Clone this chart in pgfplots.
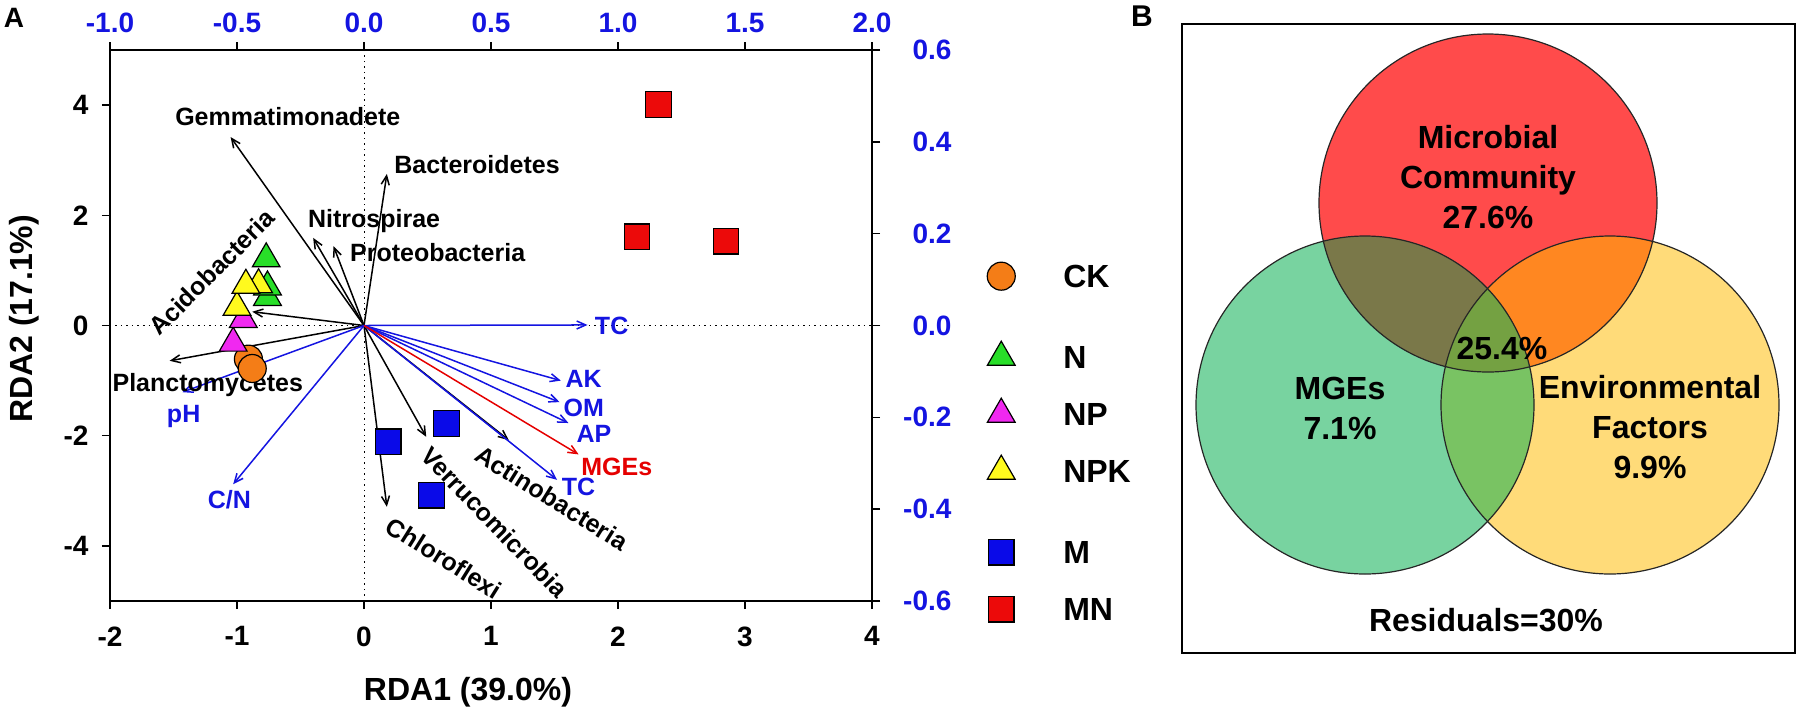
\documentclass[border=0pt]{standalone}
\usepackage{pgfplots}
\pgfplotsset{compat=1.18}
\usepackage{fontspec}
\setmainfont{Liberation Sans}
\usetikzlibrary{arrows.meta}

\newcommand{\fnt}[2]{\fontsize{#1}{#2}\selectfont\bfseries}

\definecolor{myblue}{RGB}{20,20,225}
\definecolor{ckorange}{RGB}{244,125,23}
\definecolor{ngreen}{RGB}{40,222,40}
\definecolor{npmag}{RGB}{240,40,240}
\definecolor{npkyel}{RGB}{255,250,30}
\definecolor{mblue}{RGB}{10,10,232}
\definecolor{mnred}{RGB}{236,10,10}
% venn regions
\definecolor{vR}{HTML}{FF4B4B}
\definecolor{vG}{HTML}{78D3A0}
\definecolor{vY}{HTML}{FFDB79}
\definecolor{vRG}{HTML}{7A7849}
\definecolor{vRY}{HTML}{FF8721}
\definecolor{vGY}{HTML}{79C363}
\definecolor{vRGY}{HTML}{74A142}

\tikzset{
  sp/.style={line width=1.5pt, black, -{Straight Barb[length=9pt,width=8pt]}},
  env/.style={line width=1.5pt, myblue, -{Straight Barb[length=9pt,width=8pt]}},
}

\begin{document}
\begin{tikzpicture}
\path[use as bounding box] (0pt,0pt) rectangle (1800pt,-716pt);

\node[font=\fnt{28}{28}] at (14pt,-18pt) {A};
\node[font=\fnt{30}{30}] at (1142pt,-16pt) {B};

% ---------- panel A, top and right scales ----------
\begin{axis}[
  at={(110pt,-601pt)}, anchor=south west,
  scale only axis, width=762pt, height=551pt,
  xmin=-1, xmax=2, ymin=-0.6, ymax=0.6,
  axis x line=top, axis y line=right,
  axis line style={-, line width=1.5pt},
  tick align=outside, major tick length=8pt,
  tick style={line width=1.5pt, black},
  xtick={-1,-0.5,0,0.5,1,1.5,2},
  xticklabels={-1.0,-0.5,0.0,0.5,1.0,1.5,2.0},
  ytick={-0.6,-0.4,-0.2,0,0.2,0.4,0.6},
  yticklabels={-0.6,-0.4,-0.2,0.0,0.2,0.4,0.6},
  tick label style={font=\fnt{28}{28}, text=myblue},
  xticklabel style={yshift=6pt},
  yticklabel style={anchor=east, xshift=75pt},
]
\end{axis}

% ---------- panel A, RDA biplot ----------
\begin{axis}[
  at={(110pt,-601pt)}, anchor=south west,
  scale only axis, width=762pt, height=551pt,
  xmin=-2, xmax=4, ymin=-5, ymax=5,
  axis x line=bottom, axis y line=left,
  axis line style={-, line width=1.5pt},
  tick align=outside, major tick length=8pt,
  tick style={line width=1.5pt, black},
  xtick={-2,-1,0,1,2,3,4}, xticklabels={-2,-1,0,1,2,3,4},
  ytick={-4,-2,0,2,4}, yticklabels={-4,-2,0,2,4},
  tick label style={font=\fnt{28}{28}},
  xticklabel style={yshift=-14pt},
  yticklabel style={xshift=-10pt},
  xlabel={RDA1 (39.0\%)}, ylabel={RDA2 (17.1\%)},
  label style={font=\fnt{32}{32}},
  xlabel style={at={(axis description cs:0.4698,-0.165)}, anchor=center},
  ylabel style={at={(axis description cs:-0.112,0.512)}, anchor=center},
  clip=false,
  legend cell align=left,
  legend style={at={(axis description cs:1.151,0.6416)}, anchor=north west,
    draw=none, fill=none, inner sep=0pt, row sep=0pt, font=\fnt{32}{32},
    nodes={inner sep=0pt, text height=39.5pt, text depth=17.5pt},
    /tikz/every odd column/.append style={column sep=48pt}},
]
% reference lines
\addplot[forget plot, black, line width=1pt, dash pattern=on 1.5pt off 4pt] coordinates {(-2,0) (4,0)};
\addplot[forget plot, black, line width=1pt, dash pattern=on 1.5pt off 4pt] coordinates {(0,-5) (0,5)};

% samples
\addplot[only marks, mark=*, mark size=14pt, mark options={fill=ckorange, draw=black, line width=1.2pt}]
  coordinates {(-0.91,-0.61) (-0.88,-0.78)};
\addlegendentry{CK}
\addlegendimage{empty legend}
\addlegendentry[text height=12pt, text depth=12pt]{}
\addplot[only marks, mark=triangle*, mark size=16pt, mark options={fill=ngreen, draw=black, line width=1.2pt}]
  coordinates {(-0.76,0.51) (-0.76,0.70) (-0.77,1.21)};
\addlegendentry{N}
\addplot[only marks, mark=triangle*, mark size=16pt, mark options={fill=npmag, draw=black, line width=1.2pt}]
  coordinates {(-1.03,-0.32) (-0.95,0.11)};
\addlegendentry{NP}
\addplot[only marks, mark=triangle*, mark size=16pt, mark options={fill=npkyel, draw=black, line width=1.2pt}]
  coordinates {(-1.00,0.33) (-0.83,0.74) (-0.93,0.73)};
\addlegendentry{NPK}
\addlegendimage{empty legend}
\addlegendentry[text height=12pt, text depth=12pt]{}
\addplot[only marks, mark=square*, mark size=12.8pt, mark options={fill=mblue, draw=black, line width=1.2pt}]
  coordinates {(0.19,-2.11) (0.65,-1.78) (0.53,-3.08)};
\addlegendentry{M}
\addplot[only marks, mark=square*, mark size=12.8pt, mark options={fill=mnred, draw=black, line width=1.2pt}]
  coordinates {(2.32,4.01) (2.15,1.61) (2.85,1.53)};
\addlegendentry{MN}

% phyla
\addplot[forget plot, sp] coordinates {(0,0) (-1.05,3.42)};
\addplot[forget plot, sp] coordinates {(0,0) (0.18,2.75)};
\addplot[forget plot, sp] coordinates {(0,0) (-0.40,1.59)};
\addplot[forget plot, sp] coordinates {(0,0) (-0.24,1.44)};
\addplot[forget plot, sp] coordinates {(0,0) (-0.88,0.25)};
\addplot[forget plot, sp] coordinates {(0,0) (-1.53,-0.64)};
\addplot[forget plot, sp] coordinates {(0,0) (1.14,-2.08)};
\addplot[forget plot, sp] coordinates {(0,0) (0.49,-2.02)};
\addplot[forget plot, sp] coordinates {(0,0) (0.18,-3.29)};
% soil factors
\addplot[forget plot, env] coordinates {(0,0) (1.76,0.01)};
\addplot[forget plot, env] coordinates {(0,0) (1.55,-1.00)};
\addplot[forget plot, env] coordinates {(0,0) (1.54,-1.39)};
\addplot[forget plot, env] coordinates {(0,0) (1.61,-1.77)};
\addplot[forget plot, env] coordinates {(0,0) (1.52,-2.80)};
\addplot[forget plot, env] coordinates {(0,0) (-1.43,-1.21)};
\addplot[forget plot, env] coordinates {(0,0) (-1.03,-2.88)};
\addplot[forget plot, env, red!90!black] coordinates {(0,0) (1.69,-2.34)};

% labels
\begin{scope}[font=\fnt{25}{25}]
\node at (axis cs:-0.60,3.80) {Gemmatimonadete};
\node at (axis cs:0.89,2.92) {Bacteroidetes};
\node at (axis cs:0.08,1.90) {Nitrospirae};
\node at (axis cs:0.58,1.32) {Proteobacteria};
\node[rotate=45] at (axis cs:-1.20,0.97) {Acidobacteria};
\node at (axis cs:-1.23,-1.08) {Planctomycetes};
\node[rotate=-32] at (axis cs:1.48,-3.13) {Actinobacteria};
\node[rotate=-46] at (axis cs:1.03,-3.57) {Verrucomicrobia};
\node[rotate=-32] at (axis cs:0.63,-4.22) {Chloroflexi};
\end{scope}
\begin{scope}[font=\fnt{25}{25}, text=myblue]
\node at (axis cs:1.95,0) {TC};
\node at (axis cs:1.73,-0.97) {AK};
\node at (axis cs:1.73,-1.50) {OM};
\node at (axis cs:1.81,-1.97) {AP};
\node at (axis cs:1.69,-2.93) {TC};
\node at (axis cs:-1.42,-1.66) {pH};
\node at (axis cs:-1.06,-3.17) {C/N};
\node[text=red!90!black] at (axis cs:1.99,-2.56) {MGEs};
\end{scope}
\end{axis}

% ---------- panel B, variation partitioning ----------
\begin{axis}[
  at={(1182pt,-653pt)}, anchor=south west,
  scale only axis, width=613pt, height=629pt,
  xmin=1182, xmax=1795, ymin=-653, ymax=-24,
  axis line style={line width=1.5pt},
  xtick=\empty, ytick=\empty,
  clip=false,
]
\pgfplotsextra{
  \fill[vR] (axis cs:1488,-203) circle[radius=169pt];
  \fill[vG] (axis cs:1365,-405) circle[radius=169pt];
  \fill[vY] (axis cs:1610,-405) circle[radius=169pt];
  \begin{scope}
    \clip (axis cs:1488,-203) circle[radius=169pt];
    \fill[vRG] (axis cs:1365,-405) circle[radius=169pt];
    \fill[vRY] (axis cs:1610,-405) circle[radius=169pt];
  \end{scope}
  \begin{scope}
    \clip (axis cs:1365,-405) circle[radius=169pt];
    \fill[vGY] (axis cs:1610,-405) circle[radius=169pt];
    \clip (axis cs:1610,-405) circle[radius=169pt];
    \fill[vRGY] (axis cs:1488,-203) circle[radius=169pt];
  \end{scope}
  \draw[line width=1.2pt, black!85] (axis cs:1488,-203) circle[radius=169pt];
  \draw[line width=1.2pt, black!85] (axis cs:1365,-405) circle[radius=169pt];
  \draw[line width=1.2pt, black!85] (axis cs:1610,-405) circle[radius=169pt];
}
\begin{scope}[font=\fnt{32}{40}, align=center]
\node at (axis cs:1488,-177) {Microbial\\Community\\27.6\%};
\node at (axis cs:1502,-348) {25.4\%};
\node at (axis cs:1340,-408) {MGEs\\7.1\%};
\node at (axis cs:1650,-427) {Environmental\\Factors\\9.9\%};
\node at (axis cs:1486,-620) {Residuals=30\%};
\end{scope}
\end{axis}
\end{tikzpicture}
\end{document}
